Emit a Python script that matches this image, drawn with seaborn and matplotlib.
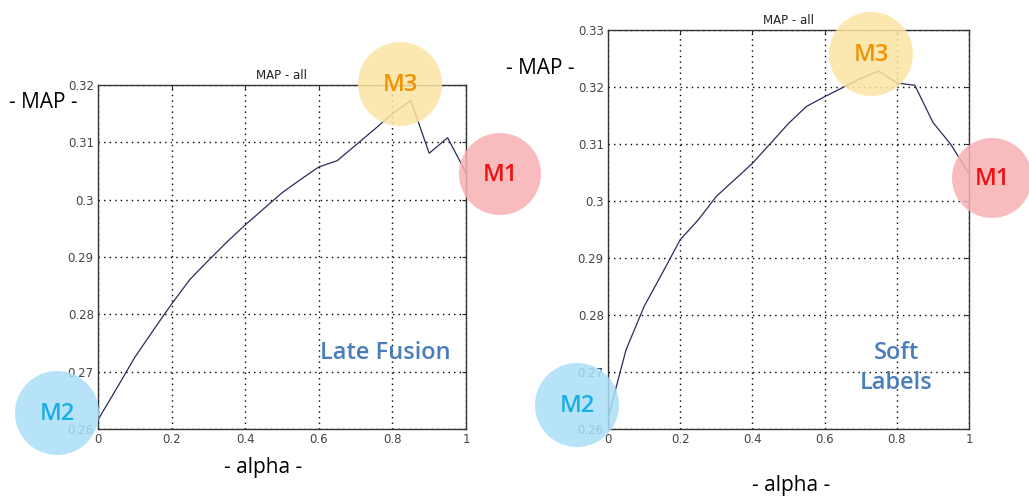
import numpy as np
import pandas as pd
import seaborn as sns
import matplotlib.pyplot as plt
from matplotlib.patches import Circle

# data
alpha = [0.0, 0.05, 0.1, 0.15, 0.2, 0.25, 0.3, 0.35, 0.4, 0.45, 0.5,
         0.55, 0.6, 0.65, 0.7, 0.75, 0.8, 0.85, 0.9, 0.95, 1.0]
map_late_fusion = [0.2616, 0.2670, 0.2725, 0.2772, 0.2818, 0.2861, 0.2894,
                   0.2926, 0.2956, 0.2984, 0.3012, 0.3035, 0.3057, 0.3068,
                   0.3095, 0.3122, 0.3150, 0.3173, 0.3081, 0.3108, 0.3047]
map_soft_labels = [0.2619, 0.2739, 0.2815, 0.2873, 0.2932, 0.2967, 0.3008,
                   0.3037, 0.3066, 0.3101, 0.3136, 0.3166, 0.3183, 0.3199,
                   0.3215, 0.3228, 0.3207, 0.3203, 0.3138, 0.3099, 0.3048]
x_ticks = [0, 0.2, 0.4, 0.6, 0.8, 1]
x_ticklabels = ['0', '0.2', '0.4', '0.6', '0.8', '1']
left_yticks = [0.26, 0.27, 0.28, 0.29, 0.30, 0.31, 0.32]
right_yticks = [0.26, 0.27, 0.28, 0.29, 0.30, 0.31, 0.32, 0.33]
ytick_labels = ['0.26', '0.27', '0.28', '0.29', '0.3', '0.31', '0.32', '0.33']

sns.set_style('white')
plt.rcParams['font.family'] = ['DejaVu Sans']

W, H = 1029, 497
fig = plt.figure(figsize=(W / 100, H / 100), dpi=100)


def px_axes(x0, y0, x1, y1):
    # axes from pixel box (top-left origin)
    return fig.add_axes([x0 / W, 1 - y1 / H, (x1 - x0) / W, (y1 - y0) / H])


ax1 = px_axes(98, 85, 466, 429)
ax2 = px_axes(608, 30, 969, 429)

panels = [(ax1, map_late_fusion, left_yticks, (0.26, 0.32)),
          (ax2, map_soft_labels, right_yticks, (0.26, 0.33))]
for ax, vals, yt, ylim in panels:
    df = pd.DataFrame({'alpha': alpha, 'MAP': vals})
    sns.lineplot(data=df, x='alpha', y='MAP', ax=ax, color='#2b2b5c', lw=0.9)
    ax.set_xlim(0, 1)
    ax.set_ylim(*ylim)
    ax.set_xticks(x_ticks)
    ax.set_xticklabels(x_ticklabels)
    ax.set_yticks(yt)
    ax.set_yticklabels(ytick_labels[:len(yt)])
    ax.grid(True, ls=(0, (1, 3)), color='black', lw=1.0)
    ax.tick_params(direction='in', top=True, right=True, labelsize=8.5,
                   labelcolor='#444444', length=3, pad=3)
    for s in ax.spines.values():
        s.set_color('#333333')
        s.set_linewidth(1.0)
    ax.set_xlabel('')
    ax.set_ylabel('')
    ax.set_title('MAP - all', fontsize=8.5, color='#222222', pad=4)

# overlay in pixel coords for the annotations
ov = fig.add_axes([0, 0, 1, 1])
ov.set_xlim(0, W)
ov.set_ylim(H, 0)
ov.axis('off')
ov.patch.set_alpha(0)

circles = [
    (57, 413, 42, '#a9def6', 'M2', '#18aee6'),
    (400, 84, 42, '#fbe3a2', 'M3', '#f39200'),
    (500, 174, 41, '#f9b1b3', 'M1', '#ee1111'),
    (577, 405, 42, '#a9def6', 'M2', '#18aee6'),
    (871, 54, 42, '#fbe3a2', 'M3', '#f39200'),
    (992, 178, 40, '#f9b1b3', 'M1', '#ee1111'),
]
for cx, cy, r, fc, lab, tc in circles:
    ov.add_patch(Circle((cx, cy), r, facecolor=fc, edgecolor='none', alpha=0.85))
    ov.text(cx, cy + 1, lab, ha='center', va='center', fontsize=17,
            color=tc, family='Open Sans', fontweight='semibold')

ov.text(43, 102, '- MAP -', ha='center', va='center', fontsize=15,
        color='black', family='Open Sans')
ov.text(540, 68, '- MAP -', ha='center', va='center', fontsize=15,
        color='black', family='Open Sans')
ov.text(263, 467, '- alpha -', ha='center', va='center', fontsize=15,
        color='black', family='Open Sans')
ov.text(791, 485, '- alpha -', ha='center', va='center', fontsize=15,
        color='black', family='Open Sans')
ov.text(385, 353, 'Late Fusion', ha='center', va='center', fontsize=17,
        color='#4a7ebb', family='Open Sans', fontweight='semibold')
ov.text(896, 368, 'Soft\nLabels', ha='center', va='center', fontsize=17,
        color='#4a7ebb', family='Open Sans', fontweight='semibold',
        linespacing=1.35)

fig.savefig('out.png', dpi=100)
